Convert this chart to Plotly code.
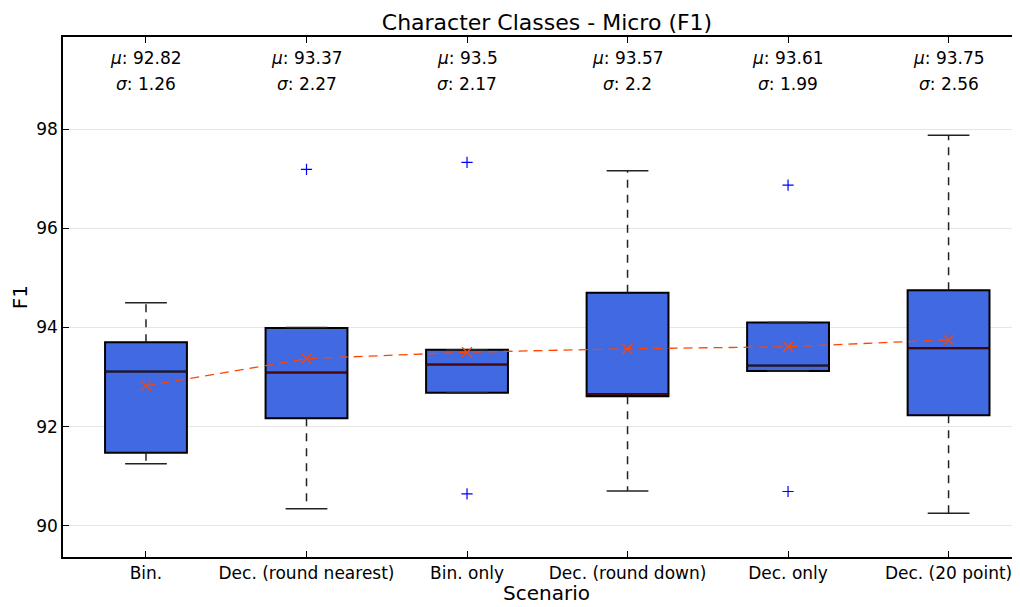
import plotly.graph_objects as go

categories = ["Bin.", "Dec. (round nearest)", "Bin. only", "Dec. (round down)", "Dec. only", "Dec. (20 point)"]
q1 = [91.47, 92.17, 92.68, 92.61, 93.12, 92.23]
median = [93.11, 93.09, 93.25, 92.65, 93.23, 93.58]
q3 = [93.70, 93.99, 93.55, 94.70, 94.10, 94.75]
whisk_lo = [91.25, 90.34, 92.68, 90.70, 93.12, 90.25]
whisk_hi = [94.50, 94.00, 93.55, 97.16, 94.10, 97.88]
outliers = [[], [97.19], [97.33, 90.64], [], [96.87, 90.69], []]
means = [92.82, 93.37, 93.50, 93.57, 93.61, 93.75]
stds = [1.26, 2.27, 2.17, 2.20, 1.99, 2.56]

FONT = "DejaVu Sans"
BOX_W = 0.51
CAP_W = 0.26
xs = list(range(len(categories)))

fig = go.Figure()

# boxes
fig.add_trace(go.Box(
    x=xs, q1=q1, median=median, q3=q3, lowerfence=q1, upperfence=q3,
    width=BOX_W, fillcolor="#4169E1", line=dict(color="black", width=2),
    whiskerwidth=0, boxpoints=False, showlegend=False, hoverinfo="skip"))

# whiskers (dashed)
wx, wy = [], []
for i in xs:
    wx += [i, i, None, i, i, None]
    wy += [q3[i], whisk_hi[i], None, q1[i], whisk_lo[i], None]
fig.add_trace(go.Scatter(x=wx, y=wy, mode="lines",
                         line=dict(color="#222222", width=1.5, dash="8px,7px"),
                         showlegend=False, hoverinfo="skip"))

# caps
cx, cy = [], []
for i in xs:
    cx += [i - CAP_W / 2, i + CAP_W / 2, None, i - CAP_W / 2, i + CAP_W / 2, None]
    cy += [whisk_hi[i], whisk_hi[i], None, whisk_lo[i], whisk_lo[i], None]
fig.add_trace(go.Scatter(x=cx, y=cy, mode="lines",
                         line=dict(color="#222222", width=1.5),
                         showlegend=False, hoverinfo="skip"))

# medians (dark red)
mx, my = [], []
for i in xs:
    mx += [i - BOX_W / 2, i + BOX_W / 2, None]
    my += [median[i], median[i], None]
fig.add_trace(go.Scatter(x=mx, y=my, mode="lines",
                         line=dict(color="#4a0808", width=1.2),
                         showlegend=False, hoverinfo="skip"))

# outliers
ox, oy = [], []
for i in xs:
    for v in outliers[i]:
        ox.append(i)
        oy.append(v)
fig.add_trace(go.Scatter(x=ox, y=oy, mode="markers",
                         marker=dict(symbol="cross-thin", size=8,
                                     line=dict(color="blue", width=1.2)),
                         showlegend=False, hoverinfo="skip"))

# means
fig.add_trace(go.Scatter(x=xs, y=means, mode="lines+markers",
                         line=dict(color="#FF4500", width=1.3, dash="9px,6px"),
                         marker=dict(symbol="x-thin", size=10,
                                     line=dict(color="#FF4500", width=1.3)),
                         showlegend=False, hoverinfo="skip"))

# annotations
for i in xs:
    fig.add_annotation(x=i, y=99.44, xref="x", yref="y",
                       text=f"<i>μ</i>: {means[i]}", showarrow=False,
                       font=dict(family=FONT, size=17, color="black"))
    fig.add_annotation(x=i, y=98.91, xref="x", yref="y",
                       text=f"<i>σ</i>: {stds[i]}", showarrow=False,
                       font=dict(family=FONT, size=17, color="black"))

# x-axis title (centred on the full axes, which extend past the right edge)
fig.add_annotation(x=0.5057, y=-0.069, xref="paper", yref="paper",
                   xanchor="center", yanchor="middle", text="Scenario", showarrow=False,
                   borderpad=0, font=dict(family=FONT, size=20, color="black"))

# page body has an 8px margin; size the figure to fill the window from there
fig.update_layout(
    width=1012, height=599,
    margin=dict(l=55, r=0, t=29, b=50, autoexpand=False),
    paper_bgcolor="white", plot_bgcolor="white",
    font=dict(family=FONT, size=17, color="black"),
    title=dict(text="Character Classes - Micro (F1)", x=0.5326, xanchor="center",
               y=1 - 14 / 599, yanchor="middle",
               font=dict(family=FONT, size=22, color="black")),
)
fig.update_xaxes(
    range=[-0.517, 5.445], tickvals=xs, ticktext=categories,
    ticks="inside", ticklen=6, tickcolor="black",
    showline=True, linecolor="black", linewidth=1.5, mirror="ticks",
    showgrid=False, zeroline=False, automargin=False,
    tickfont=dict(family=FONT, size=17),
)
fig.update_yaxes(
    range=[89.368, 99.86], tickvals=[90, 92, 94, 96, 98],
    ticks="inside", ticklen=6, tickcolor="black",
    showline=True, linecolor="black", linewidth=1.5,
    showgrid=True, gridcolor="#e6e6e6", gridwidth=1, zeroline=False, automargin=False,
    title=dict(text="F1", font=dict(family=FONT, size=20), standoff=10),
    tickfont=dict(family=FONT, size=17),
)

fig.write_html("out.html")
